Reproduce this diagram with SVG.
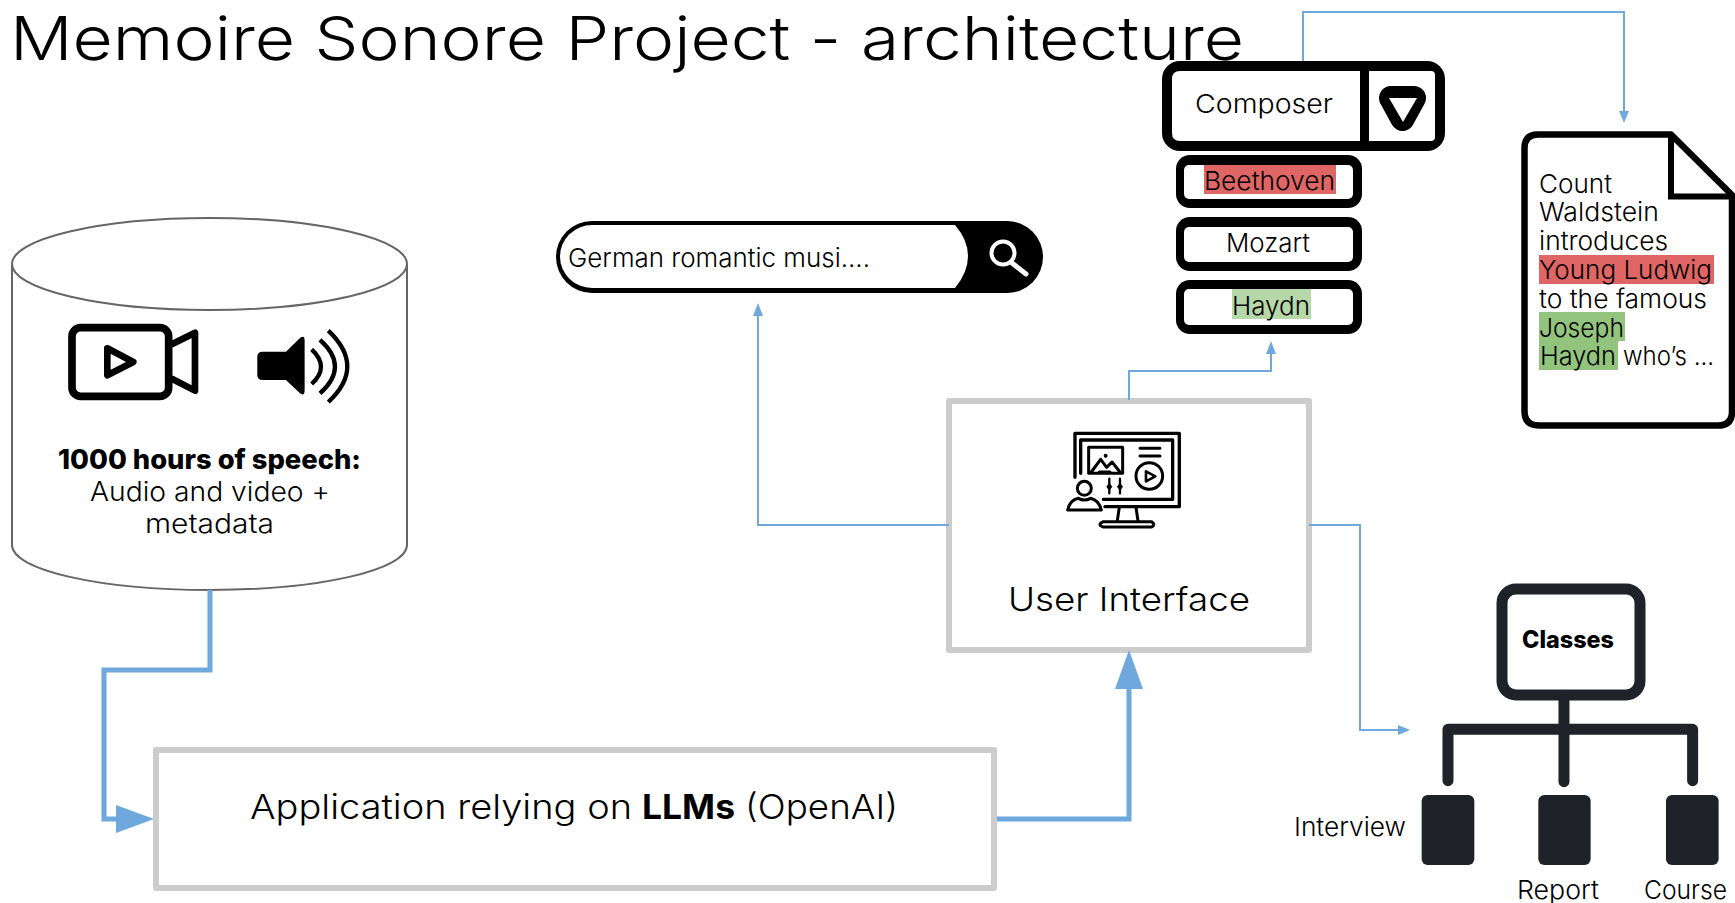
<svg xmlns="http://www.w3.org/2000/svg" width="1735" height="903" viewBox="0 0 1735 903">
<style>
text{font-family:"Inter","Noto Sans","Liberation Sans",sans-serif;fill:#000;font-weight:350}
.b{font-weight:800}
.m{font-size:26px}
.box{fill:#fff;stroke:#ccc;stroke-width:6;stroke-linejoin:round}
.thin{fill:none;stroke:#6fa8dc;stroke-width:2}
.thick{fill:none;stroke:#6fa8dc;stroke-width:5}
.ah{fill:#6fa8dc}
.i{fill:none;stroke:#000;stroke-linecap:round;stroke-linejoin:round}
.d{fill:none;stroke:#1f2229;stroke-width:33;stroke-linecap:round;stroke-linejoin:round}
</style>
<rect width="1735" height="903" fill="#fff"/>
<text id="title" x="10" y="59.500" font-size="61" style="font-weight:300" textLength="1234" lengthAdjust="spacingAndGlyphs">Memoire Sonore Project - architecture</text>

<g id="database">
<path d="M12 264V545C12 570 100 590 209.500 590S407 570 407 545V264" fill="#fff" stroke="#666" stroke-width="2"/>
<ellipse cx="209.500" cy="264" rx="197.500" ry="46" fill="#fff" stroke="#666" stroke-width="2"/>
<g transform="translate(0 200) scale(.3333)">
<rect class="i" x="216" y="383" width="290" height="206" rx="26" stroke-width="23"/>
<path class="i" d="M517 432L585 398V572L517 537" stroke-width="20"/>
<path class="i" d="M322 445L400 486L322 526Z" stroke-width="20"/>
<path d="M788 455H858L900 414Q914 404 914 422V570Q914 590 900 580L858 540H788Q772 540 772 525V470Q772 455 788 455Z"/>
<path class="i" style="stroke-linecap:butt" d="M935 448Q991 500 935 552M960 420Q1050 500 960 580M985 392Q1099 500 985 606" stroke-width="13"/>
</g>
<text class="b" x="58" y="469" font-size="27" textLength="303" lengthAdjust="spacingAndGlyphs">1000 hours of speech:</text>
<text x="90" y="501" font-size="27" textLength="240" lengthAdjust="spacingAndGlyphs">Audio and video +</text>
<text x="145" y="533" font-size="27" textLength="129" lengthAdjust="spacingAndGlyphs">metadata</text>
</g>

<g id="app">
<rect class="box" x="156" y="750" width="838" height="138"/>
<text x="250" y="819" font-size="34" textLength="382" lengthAdjust="spacingAndGlyphs">Application relying on</text>
<text class="b" x="642" y="819" font-size="34" textLength="93" lengthAdjust="spacingAndGlyphs" style="font-weight:700">LLMs</text>
<text x="745" y="819" font-size="34" textLength="153" lengthAdjust="spacingAndGlyphs">(OpenAI)</text>
</g>

<g id="ui">
<rect class="box" x="949" y="401" width="360" height="249"/>
<g transform="translate(930 390) scale(.3333)">
<path class="i" stroke-width="10" d="M435 262V130H748V350H525"/>
<path class="i" stroke-width="10" d="M452 250V150H728V328H520"/>
<rect class="i" stroke-width="9" x="476" y="172" width="102" height="78"/>
<path class="i" stroke-width="9" d="M484 246L512 208L530 232L546 216L570 246M508 246H540"/>
<circle cx="527" cy="197" r="6"/>
<path class="i" stroke-width="9" d="M630 175H690M630 198H690"/>
<circle class="i" stroke-width="9" cx="658" cy="258" r="40"/>
<path class="i" stroke-width="8" d="M648 244L676 259L648 274Z"/>
<path class="i" stroke-width="7" d="M538 266V310M570 266V310"/>
<path d="M538 278L547 290L538 302L529 290ZM570 278L579 290L570 302L561 290Z"/>
<circle class="i" stroke-width="9" cx="463" cy="295" r="21"/>
<path class="i" stroke-width="9" d="M413 360Q420 330 445 325Q463 335 482 325Q508 332 514 360Z"/>
<path class="i" stroke-width="9" d="M568 352L562 392M618 352L624 392"/>
<path class="i" stroke-width="9" d="M520 395H665Q678 404 665 411H520Q500 404 520 395Z"/>
</g>
<text x="1008" y="611" font-size="33" textLength="242" lengthAdjust="spacingAndGlyphs">User Interface</text>
</g>

<g id="search">
<rect x="556" y="221" width="487" height="72" rx="36"/>
<path d="M592 225H955Q968 240 968 256Q968 272 955 288H592A32 31.500 0 0 1 592 225Z" fill="#fff"/>
<text class="m" x="568" y="267" textLength="302" lengthAdjust="spacingAndGlyphs">German romantic musi....</text>
<circle cx="1003" cy="253" r="11.500" fill="none" stroke="#fff" stroke-width="4"/>
<path d="M1012 263L1026 274" stroke="#fff" stroke-width="5" stroke-linecap="round"/>
</g>

<g id="composer">
<rect x="1162" y="61" width="283" height="90" rx="18"/>
<path d="M1180 71H1360V141H1180Q1172 141 1172 133V79Q1172 71 1180 71Z" fill="#fff"/>
<path d="M1369 71H1431Q1435 71 1435 75V137Q1435 141 1431 141H1369Z" fill="#fff"/>
<path d="M1391 98H1414L1402.500 119Z" stroke="#000" stroke-width="24" stroke-linejoin="round"/>
<polygon points="1389,98 1417,98 1403,122" fill="#fff"/>
<text class="m" x="1195" y="113" textLength="138" lengthAdjust="spacingAndGlyphs">Composer</text>
</g>
<g id="beethoven">
<rect x="1176" y="155" width="186" height="53" rx="14"/>
<rect x="1184" y="165" width="169" height="34" rx="5" fill="#fff"/>
<rect x="1204" y="165" width="132" height="29" fill="#e06666"/>
<text class="m" x="1204" y="190" textLength="131" lengthAdjust="spacingAndGlyphs">Beethoven</text>
</g>
<g id="mozart">
<rect x="1176" y="217" width="186" height="54" rx="14"/>
<rect x="1184" y="227" width="169" height="35" rx="5" fill="#fff"/>
<text class="m" x="1226" y="252" textLength="84" lengthAdjust="spacingAndGlyphs">Mozart</text>
</g>
<g id="haydn">
<rect x="1176" y="280" width="186" height="54" rx="14"/>
<rect x="1184" y="289" width="169" height="36" rx="5" fill="#fff"/>
<rect x="1232" y="289" width="79" height="30" fill="#b6d7a8"/>
<text class="m" x="1232" y="315" textLength="78" lengthAdjust="spacingAndGlyphs">Haydn</text>
</g>

<g id="document">
<path d="M1538 134.500H1671L1732 195V411.500Q1732 425.500 1718 425.500H1539Q1524.500 425.500 1524.500 411V148Q1524.500 134.500 1538 134.500Z" fill="#fff" stroke="#000" stroke-width="6.500" stroke-linejoin="round"/>
<path d="M1671 134.500V196.500H1735" fill="none" stroke="#000" stroke-width="6"/>
<rect x="1539" y="255" width="175" height="29" fill="#e06666"/>
<rect x="1539" y="312" width="86" height="29" fill="#93c47d"/>
<rect x="1539" y="341" width="79" height="29" fill="#93c47d"/>
<text class="m" x="1539" y="193" textLength="73" lengthAdjust="spacingAndGlyphs">Count</text>
<text class="m" x="1539" y="221" textLength="120" lengthAdjust="spacingAndGlyphs">Waldstein</text>
<text class="m" x="1539" y="250" textLength="129" lengthAdjust="spacingAndGlyphs">introduces</text>
<text class="m" x="1539" y="279" textLength="173" lengthAdjust="spacingAndGlyphs">Young Ludwig</text>
<text class="m" x="1539" y="308" textLength="168" lengthAdjust="spacingAndGlyphs">to the famous</text>
<text class="m" x="1539" y="337" textLength="85" lengthAdjust="spacingAndGlyphs">Joseph</text>
<text class="m" x="1540" y="365" textLength="76" lengthAdjust="spacingAndGlyphs">Haydn</text>
<text class="m" x="1623" y="365" textLength="91" lengthAdjust="spacingAndGlyphs">who’s ...</text>
</g>

<g id="classes">
<rect x="1502" y="589" width="138" height="106" rx="14" fill="#fff" stroke="#1f2229" stroke-width="11"/>
<g transform="translate(1280 570) scale(.3333)">
<path class="d" d="M504 632V478H1238V632M852 390V635"/>
<rect x="425" y="675" width="158" height="210" rx="18" fill="#1f2229"/>
<rect x="775" y="675" width="157" height="210" rx="18" fill="#1f2229"/>
<rect x="1158" y="675" width="158" height="210" rx="18" fill="#1f2229"/>
</g>
<text class="b" x="1522" y="648" font-size="24" textLength="92" lengthAdjust="spacingAndGlyphs">Classes</text>
<text class="m" x="1294" y="836" textLength="112" lengthAdjust="spacingAndGlyphs">Interview</text>
<text class="m" x="1517" y="899" textLength="82" lengthAdjust="spacingAndGlyphs">Report</text>
<text class="m" x="1644" y="899" textLength="83" lengthAdjust="spacingAndGlyphs">Course</text>
</g>

<g id="connectors">
<path class="thick" d="M210 590V670H104V819H120"/>
<polygon class="ah" points="154,819 116,805 116,833"/>
<path class="thick" d="M997 819H1129V685"/>
<polygon class="ah" points="1129,650 1115,689 1143,689"/>
<path class="thin" d="M949 525H758V314"/>
<polygon class="ah" points="758,303 753,316 763,316"/>
<path class="thin" d="M1129 400V371H1271V350"/>
<polygon class="ah" points="1271,341 1266,354 1276,354"/>
<path class="thin" d="M1303 61V12H1624V115"/>
<polygon class="ah" points="1624,123 1619,111 1629,111"/>
<path class="thin" d="M1309 525H1360V730H1400"/>
<polygon class="ah" points="1410,730 1398,725 1398,735"/>
</g>
</svg>
